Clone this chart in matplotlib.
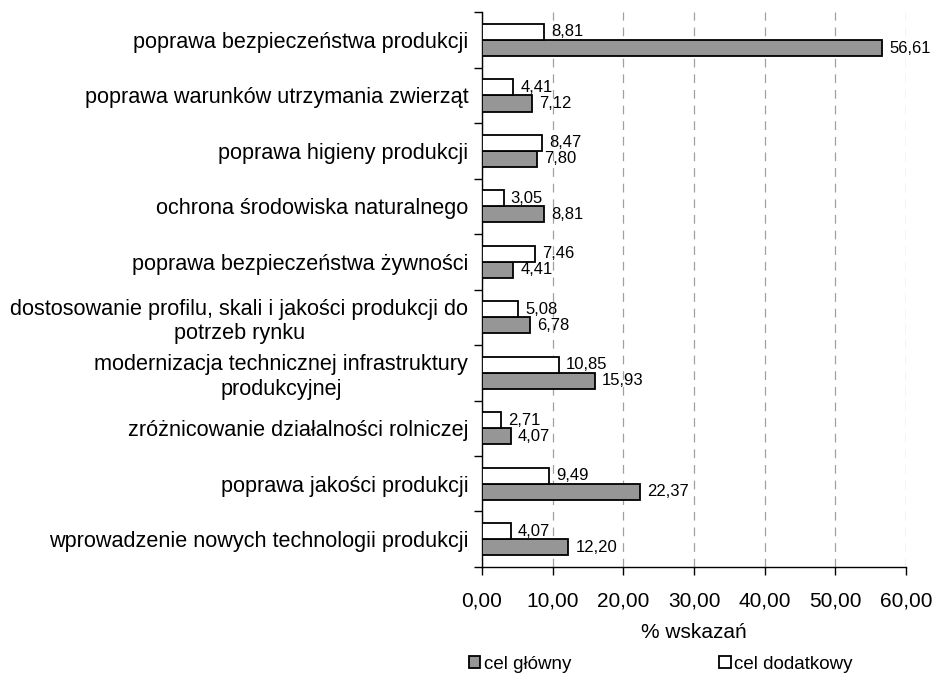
import matplotlib
matplotlib.use("Agg")
import matplotlib.pyplot as plt
import numpy as np
from matplotlib.patches import Patch

plt.rcParams['font.family'] = ['Liberation Sans', 'DejaVu Sans']

# categories from top to bottom
categories = [
    "poprawa bezpieczeństwa produkcji",
    "poprawa warunków utrzymania zwierząt",
    "poprawa higieny produkcji",
    "ochrona środowiska naturalnego",
    "poprawa bezpieczeństwa żywności",
    "dostosowanie profilu, skali i jakości produkcji do\npotrzeb rynku",
    "modernizacja technicznej infrastruktury\nprodukcyjnej",
    "zróżnicowanie działalności rolniczej",
    "poprawa jakości produkcji",
    "wprowadzenie nowych technologii produkcji",
]
cel_glowny = [56.61, 7.12, 7.80, 8.81, 4.41, 6.78, 15.93, 4.07, 22.37, 12.20]
cel_dodatkowy = [8.81, 4.41, 8.47, 3.05, 7.46, 5.08, 10.85, 2.71, 9.49, 4.07]
x_ticks = [0, 10, 20, 30, 40, 50, 60]

gray = "#969696"


def fmt(v):
    return ("%.2f" % v).replace(".", ",")


fig = plt.figure(figsize=(9.36, 6.79), dpi=100)
ax = fig.add_axes([0.515, 0.165, 0.453, 0.817])

y = np.arange(len(categories))
h = 0.29

ax.barh(y + h / 2, cel_glowny, height=h, color=gray, edgecolor="black",
        linewidth=1.3, zorder=3)
ax.barh(y - h / 2, cel_dodatkowy, height=h, color="white", edgecolor="black",
        linewidth=1.3, zorder=3)

for i in range(len(categories)):
    ax.text(cel_glowny[i] + 1.0, y[i] + h / 2, fmt(cel_glowny[i]),
            va="center", ha="left", fontsize=12)
    ax.text(cel_dodatkowy[i] + 1.0, y[i] - h / 2, fmt(cel_dodatkowy[i]),
            va="center", ha="left", fontsize=12)

ax.set_xlim(0, 60)
ax.set_ylim(len(categories) - 0.5, -0.5)

ax.set_xticks(x_ticks)
ax.set_xticklabels([fmt(v) for v in x_ticks], fontsize=15)
ax.tick_params(axis="x", direction="out", length=6, width=1, pad=12)

ax.set_yticks(np.arange(-0.5, len(categories), 1.0))
ax.set_yticklabels([])
ax.tick_params(axis="y", which="major", direction="out", length=6, width=1)
ax.set_yticks(y, minor=True)
ax.set_yticklabels(categories, minor=True, fontsize=15.6)
ax.tick_params(axis="y", which="minor", length=0, pad=10)
for t in ax.get_yticklabels(minor=True):
    t.set_multialignment("center")

ax.grid(axis="x", linestyle=(0, (7, 5.5)), color="#a0a0a0", linewidth=0.9, zorder=0)
for s in ["top", "right"]:
    ax.spines[s].set_visible(False)
ax.spines["left"].set_linewidth(1)
ax.spines["bottom"].set_linewidth(1)

ax.set_xlabel("% wskazań", fontsize=15, labelpad=9)

handles = [Patch(facecolor=gray, edgecolor="black", linewidth=1.3),
           Patch(facecolor="white", edgecolor="black", linewidth=1.3)]
fig.legend(handles, ["cel główny", "cel dodatkowy"], loc="center",
           bbox_to_anchor=(0.706, 0.022), ncol=2, frameon=False, fontsize=13.5,
           handlelength=0.6, handleheight=0.6, handletextpad=0.2,
           columnspacing=7.9)

fig.savefig("out.png", dpi=100)
